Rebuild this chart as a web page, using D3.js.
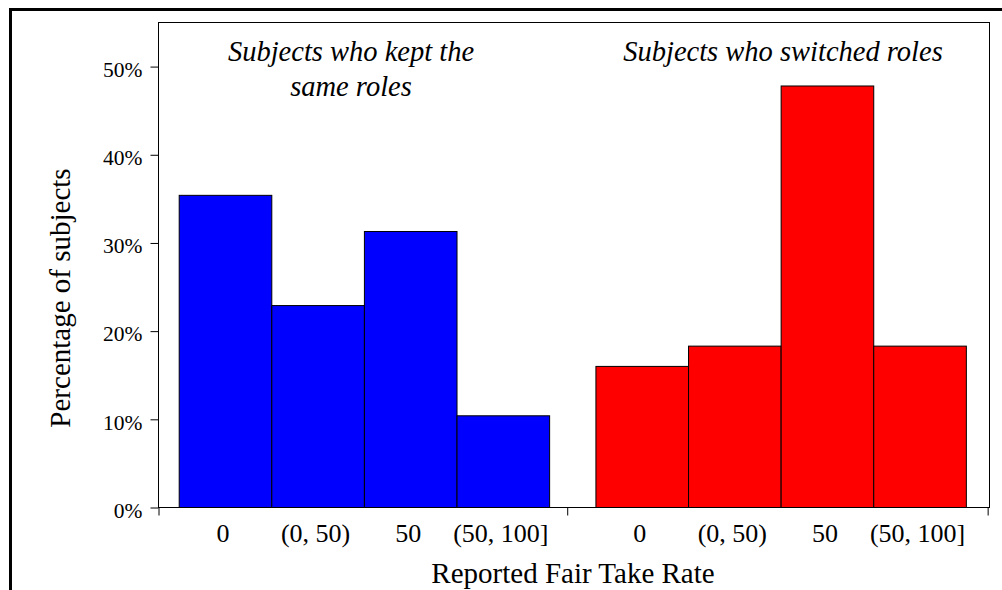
<!DOCTYPE html>
<html>
<head>
<meta charset="utf-8">
<script src="https://cdn.jsdelivr.net/npm/d3@7"></script>
<style>
  html, body { margin: 0; padding: 0; background: #fff; }
  svg { display: block; }
  text { font-family: "Liberation Serif", "Times New Roman", serif; fill: #000; }
</style>
</head>
<body>
<svg id="chart" width="1002" height="590"></svg>
<script>
// ---- data ----
const categories = ["0", "(0, 50)", "50", "(50, 100]"];
const keptValues = [35.4, 22.9, 31.3, 10.4];      // % of subjects who kept the same roles
const switchedValues = [16.0, 18.3, 47.8, 18.3];  // % of subjects who switched roles
const yTicks = [0, 10, 20, 30, 40, 50];
const groupLabels = [["Subjects who kept the", "same roles"], ["Subjects who switched roles"]];
const groupColors = ["#0000ff", "#ff0000"];
const xTitle = "Reported Fair Take Rate";
const yTitle = "Percentage of subjects";

// ---- layout ----
const svg = d3.select("#chart");
const plot = { left: 158, right: 989, top: 22, bottom: 507 };
const groupGap = 0.5; // slots between groups

// x in "slot" units: bar i of group g occupies [g*(n+gap)+i, +1]
const n = categories.length;
const x = d3.scaleLinear().domain([-0.2235, 8.75]).range([plot.left, plot.right]);
const y = d3.scaleLinear().domain([0, 55]).range([plot.bottom, plot.top]);

// outer thick frame (extends beyond right/bottom)
svg.append("rect")
  .attr("x", 10.5).attr("y", 9.5).attr("width", 1100).attr("height", 700)
  .attr("fill", "none").attr("stroke", "#000").attr("stroke-width", 3);

// plot frame
svg.append("rect")
  .attr("x", plot.left + 0.5).attr("y", plot.top + 0.5)
  .attr("width", plot.right - plot.left).attr("height", plot.bottom - plot.top)
  .attr("fill", "none").attr("stroke", "#000").attr("stroke-width", 1);

const groups = [keptValues, switchedValues];
const bars = [];
groups.forEach((vals, g) => {
  vals.forEach((v, i) => {
    bars.push({ g, i, v, start: g * (n + groupGap) + i, cat: categories[i] });
  });
});

svg.append("g").selectAll("rect").data(bars).join("rect")
  .attr("x", d => x(d.start) + 0.5)
  .attr("y", d => y(d.v) + 0.5)
  .attr("width", d => x(d.start + 1) - x(d.start))
  .attr("height", d => y(0) - y(d.v))
  .attr("fill", d => groupColors[d.g])
  .attr("stroke", "#000")
  .attr("stroke-width", 1);

// y axis
const yAxis = d3.axisLeft(y).tickValues(yTicks).tickFormat(d => d + "%").tickSize(8).tickPadding(8);
const yg = svg.append("g").attr("transform", `translate(${plot.left + 0.5},0.5)`).call(yAxis);
yg.select(".domain").remove();
yg.selectAll("line").attr("stroke", "#000");
yg.selectAll("text").attr("font-size", 21.5).attr("dy", "0.45em")
  .style("font-family", "'Liberation Serif', serif");

// x axis: boundary ticks
const xBoundaryTicks = [-0.2235, 4.19, 8.73];
const xAxis = d3.axisBottom(x).tickValues(xBoundaryTicks).tickFormat("").tickSize(8).tickSizeOuter(0);
const xg = svg.append("g").attr("transform", `translate(0.5,${plot.bottom + 0.5})`).call(xAxis);
xg.select(".domain").remove();
xg.selectAll("line").attr("stroke", "#000");

// category labels
svg.append("g").selectAll("text").data(bars).join("text")
  .attr("x", d => x(d.start + 0.5) - 2)
  .attr("y", 542)
  .attr("text-anchor", "middle")
  .attr("font-size", 26)
  .text(d => d.cat);

// axis titles
svg.append("text")
  .attr("x", 573).attr("y", 583)
  .attr("text-anchor", "middle").attr("font-size", 29)
  .text(xTitle);

svg.append("text")
  .attr("transform", "translate(70,298) rotate(-90)")
  .attr("text-anchor", "middle").attr("font-size", 29)
  .text(yTitle);

// group annotations
const annoX = [351, 783];
groupLabels.forEach((lines, g) => {
  const t = svg.append("text")
    .attr("text-anchor", "middle")
    .attr("font-size", 28.5)
    .attr("font-style", "italic");
  lines.forEach((ln, k) => {
    t.append("tspan").attr("x", annoX[g]).attr("y", 61 + k * 35).text(ln);
  });
});
</script>
</body>
</html>
